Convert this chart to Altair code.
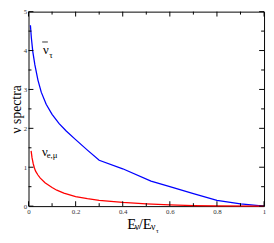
import altair as alt
import pandas as pd

# ---- data ----
tau_x = [0.008, 0.012, 0.018, 0.027, 0.04, 0.054, 0.075, 0.10, 0.13, 0.16, 0.20, 0.25, 0.30, 0.40, 0.52, 0.60, 0.70, 0.80, 0.90, 1.00]
tau_y = [4.65, 4.33, 3.98, 3.63, 3.24, 2.93, 2.62, 2.36, 2.12, 1.93, 1.71, 1.44, 1.18, 0.96, 0.645, 0.50, 0.32, 0.145, 0.056, 0.0]

emu_x = [0.011, 0.015, 0.02, 0.025, 0.03, 0.04, 0.05, 0.07, 0.10, 0.12, 0.15, 0.20, 0.25, 0.30, 0.40, 0.50, 0.60, 0.70, 0.80, 1.00]
emu_y = [1.42, 1.24, 1.09, 0.98, 0.90, 0.80, 0.72, 0.60, 0.48, 0.41, 0.335, 0.245, 0.19, 0.15, 0.095, 0.06, 0.032, 0.014, 0.005, 0.0]

x_major = [0, 0.2, 0.4, 0.6, 0.8, 1.0]
x_minor = [0.1, 0.3, 0.5, 0.7, 0.9]
y_major = [0, 1, 2, 3, 4, 5]
y_minor = [0.5, 1.5, 2.5, 3.5, 4.5]

label_text = ["ν", "τ", "ν", "e,μ"]
label_x = [0.061, 0.088, 0.057, 0.077]
label_y = [3.91, 3.82, 1.30, 1.24]
label_size = [13, 9, 13, 9]

W, H = 241, 199
FONT = "Liberation Serif"

df = pd.concat([
    pd.DataFrame({"x": tau_x, "y": tau_y, "s": "tau"}),
    pd.DataFrame({"x": emu_x, "y": emu_y, "s": "emu"}),
])

xs = alt.Scale(domain=[0, 1], nice=False, zero=False)
ys = alt.Scale(domain=[0, 5], nice=False, zero=False)
xax = alt.Axis(values=x_major, format="~g", ticks=False, domain=False, grid=False,
               labelFont=FONT, labelFontSize=7, labelColor="#333", labelPadding=2,
               title=None, labelFlush=False, labelOverlap=False)
yax = alt.Axis(values=y_major, format="~g", ticks=False, domain=False, grid=False,
               labelFont=FONT, labelFontSize=7, labelColor="#333", labelPadding=2,
               labelFlush=False, labelOverlap=False,
               title="ν spectra", titleFont=FONT, titleFontSize=14, titleFontWeight="normal",
               titleColor="black", titlePadding=0)

X = lambda f: alt.X(f, scale=xs, axis=xax)
Y = lambda f: alt.Y(f, scale=ys, axis=yax)

lines = alt.Chart(df).mark_line(strokeWidth=1.3, interpolate="linear").encode(
    x=X("x:Q"), y=Y("y:Q"),
    color=alt.Color("s:N", scale=alt.Scale(domain=["tau", "emu"], range=["#0000ff", "#ff0000"]), legend=None),
)

xmaj = pd.DataFrame({"x": x_major})
xmin = pd.DataFrame({"x": x_minor})
ymaj = pd.DataFrame({"y": y_major})
ymin = pd.DataFrame({"y": y_minor})

def xticks(d, L):
    b = alt.Chart(d).mark_rule(color="black", strokeWidth=1).encode(x=X("x:Q"), y=alt.value(H), y2=alt.value(H - L))
    t = alt.Chart(d).mark_rule(color="black", strokeWidth=1).encode(x=X("x:Q"), y=alt.value(0), y2=alt.value(L))
    return [b, t]

def yticks(d, L):
    l = alt.Chart(d).mark_rule(color="black", strokeWidth=1).encode(y=Y("y:Q"), x=alt.value(0), x2=alt.value(L))
    r = alt.Chart(d).mark_rule(color="black", strokeWidth=1).encode(y=Y("y:Q"), x=alt.value(W), x2=alt.value(W - L))
    return [l, r]

ticks = xticks(xmaj, 5) + xticks(xmin, 3) + yticks(ymaj, 5) + yticks(ymin, 3)

labels = alt.Chart(pd.DataFrame({"t": label_text, "x": label_x, "y": label_y, "fs": label_size})).mark_text(
    font=FONT, align="left", baseline="alphabetic", color="black"
).encode(x=X("x:Q"), y=Y("y:Q"), text="t:N", size=alt.Size("fs:Q", scale=None))

bar = alt.Chart(pd.DataFrame({"x": [0.058], "x2": [0.082], "y": [4.22]})).mark_rule(color="black", strokeWidth=0.8).encode(
    x=X("x:Q"), x2="x2:Q", y=Y("y:Q"))

one = pd.DataFrame({"a": [0]})

def ptext(txt, px, py, fs):
    return alt.Chart(one).mark_text(text=txt, font=FONT, fontSize=fs, align="left",
                                    baseline="alphabetic", color="black").encode(
        x=alt.value(px), y=alt.value(py))

xtitle = [
    ptext("E", 101, 222.3, 15),
    ptext("ν", 108.7, 223, 10),
    ptext("/E", 112.7, 222.3, 15),
    ptext("ν", 125.4, 223, 10),
    ptext("τ", 130.4, 226, 7),
]

chart = alt.layer(lines, *ticks, labels, bar, *xtitle).properties(
    width=W, height=H,
    autosize=alt.AutoSizeParams(type="none"),
    padding={"left": 21, "top": 1, "right": 2, "bottom": 35},
).configure_view(stroke="black", strokeWidth=1)

chart.save("out.html", embed_options={"renderer": "svg", "actions": False})
